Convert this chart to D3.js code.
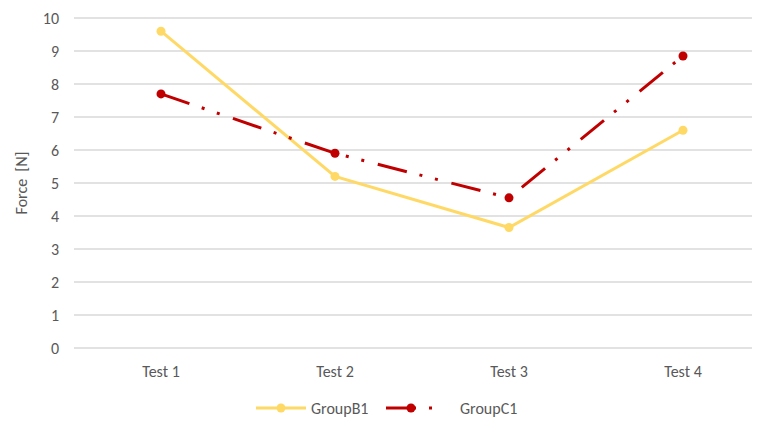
<!DOCTYPE html>
<html>
<head>
<meta charset="utf-8">
<script src="https://cdn.jsdelivr.net/npm/d3@7"></script>
<style>
  body { margin: 0; background: #fff; }
  svg { display: block; }
  text { font-family: Carlito, "Open Sans", "Liberation Sans", sans-serif; fill: #595959; white-space: pre; }
</style>
</head>
<body>
<div id="chart"></div>
<script>
const categories = ["Test 1", "Test 2", "Test 3", "Test 4"];
const groupB1 = [9.6, 5.2, 3.65, 6.6];
const groupC1 = [7.7, 5.9, 4.55, 8.85];
const yTicks = [0, 1, 2, 3, 4, 5, 6, 7, 8, 9, 10];
const seriesNames = ["GroupB1", "GroupC1"];

const W = 758, H = 424;
const svg = d3.select("#chart").append("svg").attr("width", W).attr("height", H);

const x = d3.scaleBand().domain(categories).range([74, 770]);
const y = d3.scaleLinear().domain([0, 10]).range([348, 18]);
const gridRight = 752;
const fs = 16;

// gridlines
svg.append("g").selectAll("line").data(yTicks).join("line")
  .attr("x1", 74).attr("x2", gridRight)
  .attr("y1", d => y(d)).attr("y2", d => y(d))
  .attr("stroke", "#d9d9d9").attr("stroke-width", 1.5);

// y tick labels
svg.append("g").selectAll("text").data(yTicks).join("text")
  .attr("x", 59).attr("y", d => y(d)).attr("dy", "0.35em")
  .attr("text-anchor", "end").attr("font-size", fs).text(d => d);

// x labels
svg.append("g").selectAll("text").data(categories).join("text")
  .attr("x", d => x(d) + x.bandwidth() / 2).attr("y", 377)
  .attr("text-anchor", "middle").attr("font-size", fs).text(d => d);

// y axis title
svg.append("text")
  .attr("transform", "translate(27,183) rotate(-90)")
  .attr("text-anchor", "middle").attr("font-size", fs).text("Force  [N]");

const cx = d => x(d) + x.bandwidth() / 2;
const series = [
  { name: seriesNames[0], values: groupB1, color: "#FFD966", dash: null },
  { name: seriesNames[1], values: groupC1, color: "#C00000", dash: "30,13,3,13,3,14" }
];

const line = d3.line().x(d => cx(d.c)).y(d => y(d.v));

series.forEach(s => {
  const pts = categories.map((c, i) => ({ c, v: s.values[i] }));
  svg.append("path").datum(pts)
    .attr("d", line).attr("fill", "none")
    .attr("stroke", s.color).attr("stroke-width", 3)
    .attr("stroke-dasharray", s.dash);
  svg.append("g").selectAll("circle").data(pts).join("circle")
    .attr("cx", d => cx(d.c)).attr("cy", d => y(d.v)).attr("r", 4.5)
    .attr("fill", s.color);
});

// legend
const legendY = 408;
const legendX = [256, 386];
series.forEach((s, i) => {
  const g = svg.append("g").attr("transform", `translate(${legendX[i]},${legendY})`);
  g.append("line").attr("x1", 0).attr("x2", 50).attr("y1", 0).attr("y2", 0)
    .attr("stroke", s.color).attr("stroke-width", 3)
    .attr("stroke-dasharray", s.dash);
  g.append("circle").attr("cx", 25).attr("cy", 0).attr("r", 4.5).attr("fill", s.color);
  g.append("text").attr("x", i === 0 ? 55 : 74).attr("y", 0).attr("dy", "0.35em")
    .attr("font-size", fs).text(s.name);
});
</script>
</body>
</html>
